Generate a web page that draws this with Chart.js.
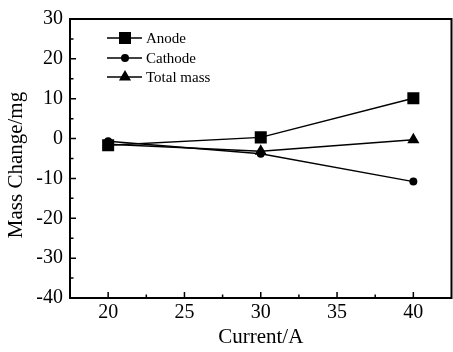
<!DOCTYPE html>
<html>
<head>
<meta charset="utf-8">
<script src="https://cdn.jsdelivr.net/npm/chart.js@4"></script>
<style>
  html, body { margin: 0; padding: 0; background: #fff; overflow: hidden; }
</style>
</head>
<body>
<canvas id="grafico" width="460" height="352"></canvas>
<script>
const currents = [20, 30, 40];
const anode = [-1.7, 0.3, 10.1];
const cathode = [-0.7, -3.8, -10.8];
const totalMass = [-1.4, -3.2, -0.3];
const seriesNames = ['Anode', 'Cathode', 'Total mass'];
const xTicks = [20, 25, 30, 35, 40];
const xMinor = [22.5, 27.5, 32.5, 37.5];
const yTicks = [-40, -30, -20, -10, 0, 10, 20, 30];
const yMinor = [-35, -25, -15, -5, 5, 15, 25];

const fonte = 'Liberation Serif, Times New Roman, serif';

function pontos(valores) {
  return currents.map((c, i) => ({ x: c, y: valores[i] }));
}

function serie(nome, valores, estilo, raio) {
  return {
    label: nome,
    data: pontos(valores),
    borderColor: '#000',
    borderWidth: 1.5,
    backgroundColor: '#000',
    pointStyle: estilo,
    pointRadius: raio,
    pointBackgroundColor: '#000',
    pointBorderColor: '#000',
    pointBorderWidth: 0,
    tension: 0
  };
}

// moldura, ticks para dentro, título do eixo y e legenda desenhados à mão
const moldura = {
  id: 'moldura',
  afterDraw(chart) {
    const { ctx, chartArea: a, scales: { x, y } } = chart;
    ctx.save();
    ctx.strokeStyle = '#000';
    ctx.lineWidth = 2;
    ctx.strokeRect(a.left, a.top, a.right - a.left, a.bottom - a.top);

    ctx.lineWidth = 1.5;
    ctx.beginPath();
    xTicks.forEach(v => { const p = x.getPixelForValue(v); ctx.moveTo(p, a.bottom); ctx.lineTo(p, a.bottom - 6); });
    xMinor.forEach(v => { const p = x.getPixelForValue(v); ctx.moveTo(p, a.bottom); ctx.lineTo(p, a.bottom - 3.5); });
    yTicks.forEach(v => { const p = y.getPixelForValue(v); ctx.moveTo(a.left, p); ctx.lineTo(a.left + 6, p); });
    yMinor.forEach(v => { const p = y.getPixelForValue(v); ctx.moveTo(a.left, p); ctx.lineTo(a.left + 3.5, p); });
    ctx.stroke();

    // título do eixo y
    ctx.save();
    ctx.translate(16, 165);
    ctx.rotate(-Math.PI / 2);
    ctx.fillStyle = '#000';
    ctx.font = '21px ' + fonte;
    ctx.textAlign = 'center';
    ctx.textBaseline = 'middle';
    ctx.fillText('Mass Change/mg', 0, 0);
    ctx.restore();

    // legenda
    const linhas = [38, 58, 77];
    chart.data.datasets.forEach((ds, i) => {
      const ly = linhas[i];
      ctx.strokeStyle = '#000';
      ctx.fillStyle = '#000';
      ctx.lineWidth = 1.5;
      ctx.beginPath();
      ctx.moveTo(107, ly);
      ctx.lineTo(142, ly);
      ctx.stroke();
      Chart.helpers.drawPoint(ctx, { pointStyle: ds.pointStyle, radius: ds.pointRadius, rotation: 0, borderWidth: 0 }, 125, ly);
      ctx.font = '15px ' + fonte;
      ctx.textBaseline = 'middle';
      ctx.textAlign = 'left';
      ctx.fillText(ds.label, 146, ly + 1);
    });
    ctx.restore();
  }
};

const ctx = document.getElementById('grafico').getContext('2d');
const chart = new Chart(ctx, {
  type: 'line',
  data: {
    datasets: [
      serie(seriesNames[0], anode, 'rect', 8.5),
      serie(seriesNames[1], cathode, 'circle', 4),
      serie(seriesNames[2], totalMass, 'triangle', 7)
    ]
  },
  options: {
    responsive: false,
    animation: false,
    layout: { padding: { top: 15, right: 3, left: 0, bottom: 0 } },
    plugins: {
      legend: { display: false },
      tooltip: { enabled: false }
    },
    scales: {
      x: {
        type: 'linear',
        min: 17.5,
        max: 42.5,
        afterBuildTicks: s => { s.ticks = xTicks.map(v => ({ value: v })); },
        afterFit: s => { s.height = 54; },
        grid: { display: false, drawTicks: false },
        border: { display: false },
        ticks: { color: '#000', font: { family: fonte, size: 20 }, padding: 3 },
        title: { display: true, text: 'Current/A', color: '#000', font: { family: fonte, size: 21 }, padding: { top: 0, bottom: 2 } }
      },
      y: {
        min: -40,
        max: 30,
        afterBuildTicks: s => { s.ticks = yTicks.map(v => ({ value: v })); },
        afterFit: s => { s.width = 70; },
        grid: { display: false, drawTicks: false },
        border: { display: false },
        ticks: { color: '#000', font: { family: fonte, size: 20 }, padding: 7 }
      }
    }
  },
  plugins: [moldura]
});
</script>
</body>
</html>
